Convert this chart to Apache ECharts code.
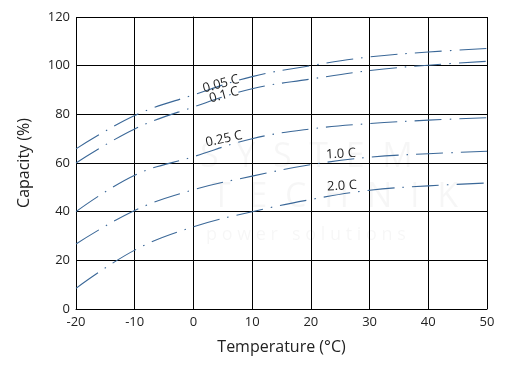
<!DOCTYPE html>
<html>
<head>
<meta charset="utf-8">
<script src="https://cdn.jsdelivr.net/npm/echarts@6/dist/echarts.min.js"></script>
<style>html,body{margin:0;padding:0;background:#fff;}#c{width:510px;height:371px;}</style>
</head>
<body>
<div id="c"></div>
<script>
const temps = [-20, -10, 0, 10, 20, 30, 40, 50];
const c005 = [65.8, 79.5, 88, 95.5, 100, 103.6, 105.6, 107.1];
const c01  = [60, 74, 83, 90.5, 94.5, 98, 100.2, 101.8];
const c025 = [40, 55, 62.6, 70, 74, 76.2, 77.6, 78.6];
const c10  = [26.7, 40.5, 49, 54.6, 59.3, 62.4, 63.8, 64.8];
const c20  = [8.5, 24.2, 33.8, 40, 45, 48.8, 50.6, 51.8];
const seriesNames = ['0.05 C', '0.1 C', '0.25 C', '1.0 C', '2.0 C'];
const yTicks = [0, 20, 40, 60, 80, 100, 120];
const xTicks = [-20, -10, 0, 10, 20, 30, 40, 50];

const font = '"Open Sans", "DejaVu Sans", sans-serif';
const lineColor = '#3b6898';
const allData = [c005, c01, c025, c10, c20];

const chart = echarts.init(document.getElementById('c'), null, {renderer: 'canvas'});
chart.setOption({
  animation: false,
  backgroundColor: '#fff',
  grid: {left: 76, right: 23, top: 17, bottom: 62},
  xAxis: {
    type: 'value', min: -20, max: 50, interval: 10,
    name: 'Temperature (°C)', nameLocation: 'middle', nameGap: 30,
    nameTextStyle: {fontFamily: font, fontSize: 16, color: '#222'},
    axisLine: {show: true, onZero: false, lineStyle: {color: '#000', width: 1}},
    axisTick: {show: false},
    axisLabel: {fontFamily: font, fontSize: 13, color: '#222', margin: 7},
    splitLine: {show: true, lineStyle: {color: '#000', width: 1}}
  },
  yAxis: {
    type: 'value', min: 0, max: 120, interval: 20,
    name: 'Capacity (%)', nameLocation: 'middle', nameGap: 44,
    nameTextStyle: {fontFamily: font, fontSize: 16, color: '#222'},
    axisLine: {show: true, lineStyle: {color: '#000', width: 1}},
    axisTick: {show: false},
    axisLabel: {fontFamily: font, fontSize: 13, color: '#222', margin: 6},
    splitLine: {show: true, lineStyle: {color: '#000', width: 1}}
  },
  graphic: [
    {type: 'text', left: 200, top: 140, z: 0, silent: true,
     style: {text: 'S  Y  S  T  E  M', fontSize: 34, fontFamily: font, fill: 'rgba(0,0,0,0.035)'}},
    {type: 'text', left: 212, top: 180, z: 0, silent: true,
     style: {text: 'T  E  C  H  N  I  K', fontSize: 34, fontFamily: font, fill: 'rgba(0,0,0,0.035)'}},
    {type: 'text', left: 206, top: 226, z: 0, silent: true,
     style: {text: 'p o w e r   s o l u t i o n s', fontSize: 18, fontFamily: font, fill: 'rgba(0,0,0,0.035)'}},
    {type: 'text', x: 221, y: 84, rotation: 15 * Math.PI / 180, z: 10,
     style: {text: seriesNames[0], fontSize: 13, fontFamily: font, fill: '#222', align: 'center', verticalAlign: 'middle'}},
    {type: 'text', x: 224, y: 95, rotation: 15 * Math.PI / 180, z: 10,
     style: {text: seriesNames[1], fontSize: 13, fontFamily: font, fill: '#222', align: 'center', verticalAlign: 'middle'}},
    {type: 'text', x: 224, y: 139, rotation: 12 * Math.PI / 180, z: 10,
     style: {text: seriesNames[2], fontSize: 13, fontFamily: font, fill: '#222', align: 'center', verticalAlign: 'middle'}},
    {type: 'text', x: 341, y: 154, rotation: 3 * Math.PI / 180, z: 10,
     style: {text: seriesNames[3], fontSize: 13, fontFamily: font, fill: '#222', align: 'center', verticalAlign: 'middle'}},
    {type: 'text', x: 342, y: 186, rotation: 3 * Math.PI / 180, z: 10,
     style: {text: seriesNames[4], fontSize: 13, fontFamily: font, fill: '#222', align: 'center', verticalAlign: 'middle'}}
  ],
  series: allData.map((d, i) => ({
    name: seriesNames[i],
    type: 'line',
    smooth: 0.4,
    showSymbol: false,
    symbol: 'none',
    data: temps.map((t, j) => [t, d[j]]),
    lineStyle: {color: lineColor, width: 1.1, type: [27, 8, 1.5, 8]},
    z: 3
  }))
});
</script>
</body>
</html>
